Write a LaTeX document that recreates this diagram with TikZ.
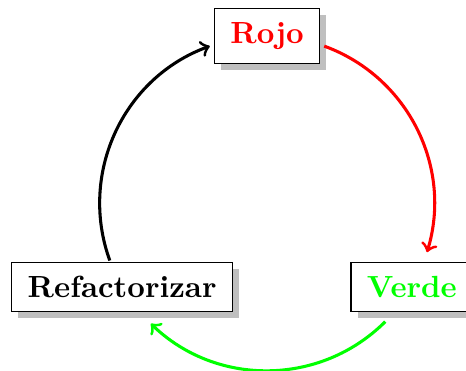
\documentclass[tikz,border=0pt]{standalone}
\usetikzlibrary{shadows}

\begin{document}
\begin{tikzpicture}[
  stage/.style={draw, fill=white, drop shadow, font=\bfseries,
                inner xsep=5.2pt, inner ysep=4.5pt},
  cycle/.style={->, line width=1pt}
]
  % radius of the cycle
  \def\R{54.67pt}
  \useasboundingbox (-87.26pt,66.44pt) rectangle (65.03pt,-54.48pt);

  \node[stage, text=red]   (rojo)  at (90:\R)  {Rojo};
  \node[stage, text=green] (verde) at (-30:\R) {Verde};
  \node[stage]             (refac) at (210:\R) {Refactorizar};

  \coordinate (r1) at (70:\R);
  \coordinate (v1) at (-45:\R);
  \coordinate (f1) at (200:\R);

  \draw[cycle, red]   (r1) arc[start angle=70,  end angle=-17,  radius=\R];
  \draw[cycle, green] (v1) arc[start angle=-45, end angle=-134, radius=\R];
  \draw[cycle, black] (f1) arc[start angle=200, end angle=110,  radius=\R];
\end{tikzpicture}
\end{document}
